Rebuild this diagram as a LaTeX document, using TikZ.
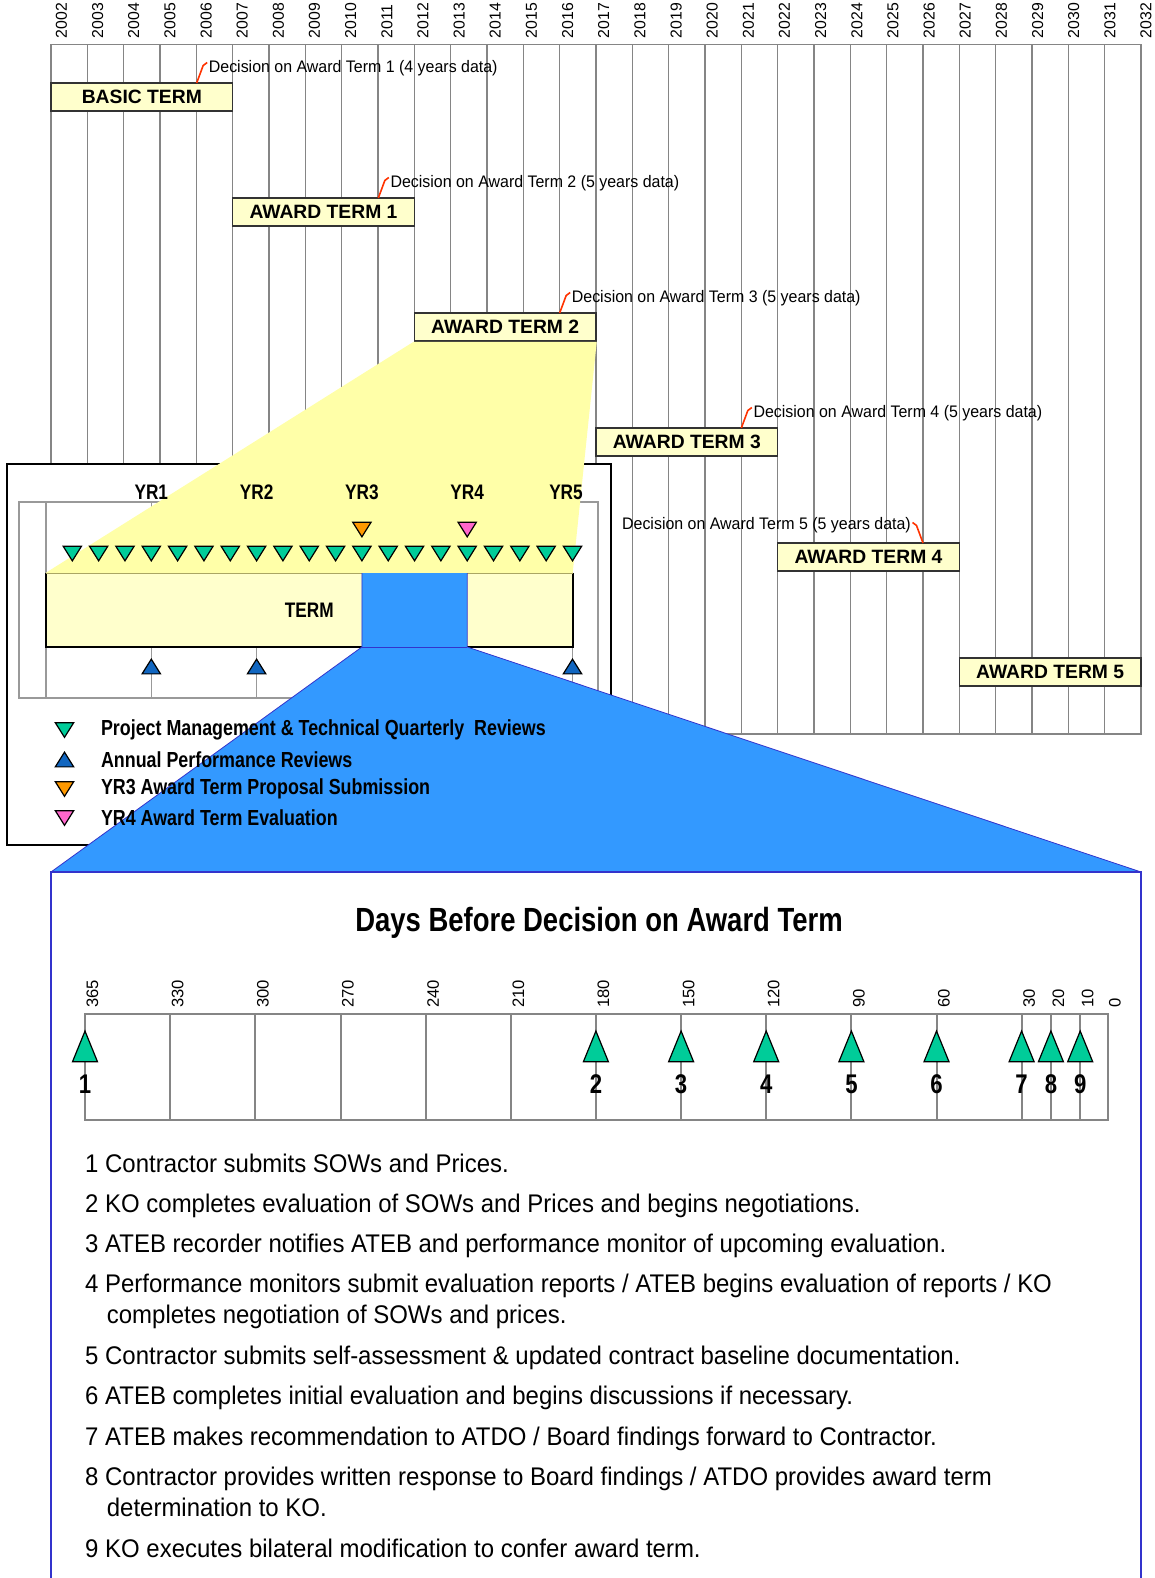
\documentclass[tikz,border=0pt]{standalone}
\usepackage{fontspec}
\setmainfont{Liberation Sans}
\newfontface\nb[FakeStretch=0.82]{Liberation Sans Bold}
\newfontface\lf[FakeStretch=0.94]{Liberation Sans}
\newfontface\df[FakeStretch=0.955]{Liberation Sans}
\usetikzlibrary{calc}
\definecolor{gridgray}{HTML}{858585}
\definecolor{termyellow}{HTML}{FFFFCC}
\definecolor{zoomyellow}{HTML}{FFFFA8}
\definecolor{zoomblue}{HTML}{3399FF}
\definecolor{edgeblue}{HTML}{3333CC}
\definecolor{qgreen}{HTML}{00CC99}
\definecolor{aorange}{HTML}{FF9900}
\definecolor{apink}{HTML}{FF66CC}
\definecolor{ablue}{HTML}{1166C0}
\definecolor{leaderred}{HTML}{FF3300}
\tikzset{
  gridline/.style={draw=gridgray, line width=1.6},
  yearlbl/.style={rotate=90, anchor=west, inner sep=0, font=\fontsize{15.8}{15.8}\selectfont},
  daylbl/.style={rotate=90, anchor=west, inner sep=0, font=\fontsize{16.6}{16.6}\selectfont},
  termbox/.style={draw=black!80, line width=1.5, fill=termyellow, inner sep=0,
     minimum width=181.67, minimum height=28, font=\bfseries\fontsize{19.3}{19.3}\selectfont},
  leader/.style={draw=leaderred, line width=1.6},
  dectext/.style={inner sep=0, font=\df\fontsize{16.7}{16.7}\selectfont},
  yrlbl/.style={inner sep=0, font=\nb\fontsize{21}{21}\selectfont},
  legtext/.style={inner sep=0, anchor=west, font=\nb\fontsize{21.8}{21.8}\selectfont},
  numlbl/.style={inner sep=0, font=\nb\fontsize{27}{27}\selectfont},
  listtext/.style={inner sep=0, anchor=base west, font=\lf\fontsize{25.5}{25.5}\selectfont},
  tri/.style={draw=black, line width=1.2, line join=miter},
  insetline/.style={draw=gray!80, line width=1.5},
  daybox/.style={draw=gridgray, line width=2},
  pics/dtri/.style={code={\draw[tri,fill=#1] (-9.2,-7.35) -- (9.2,-7.35) -- (0,7.35) -- cycle;}},
  pics/utri/.style={code={\draw[tri,fill=#1] (-9.2,7.35) -- (9.2,7.35) -- (0,-7.35) -- cycle;}},
  pics/bigtri/.style={code={\draw[tri,fill=qgreen] (-12.5,15.35) -- (12.5,15.35) -- (0,-15.35) -- cycle;}},
}
\begin{document}
\begin{tikzpicture}[x=1pt,y=-1pt]
\useasboundingbox (0,0) rectangle (1154,1578);
\fill[white] (0,0) rectangle (1154,1578);

% ---------- year grid ----------
\foreach \i in {1,...,29} \draw[gridline] ({51+\i*36.333},44.7) -- ({51+\i*36.333},734);
\draw[gridline] (51,44.7) rectangle (1141,734);
\foreach \i [evaluate=\i as \yr using int(2002+\i)] in {0,...,30}
  \node[yearlbl] (yr\i) at ({61.5+\i*36.15},38.5) {\yr};

% ---------- term boxes ----------
\node[termbox] (bt)  at (141.83,97)  {BASIC TERM};
\node[termbox] (at1) at (323.5,212)  {AWARD TERM 1};
\node[termbox] (at2) at (505.17,327) {AWARD TERM 2};
\node[termbox] (at3) at (686.83,442) {AWARD TERM 3};
\node[termbox] (at4) at (868.5,557)  {AWARD TERM 4};
\node[termbox] (at5) at (1050.17,672) {AWARD TERM 5};

% ---------- decisions ----------
\coordinate (l1) at (196.67,83);
\coordinate (l2) at (378.33,198);
\coordinate (l3) at (559.67,313);
\coordinate (l4) at (741.33,428);
\coordinate (l5) at (923,543);
\foreach \k in {1,2,3,4} \draw[leader] (l\k) -- ++(6.5,-17.5) -- ++(4,-3);
\draw[leader] (l5) -- ++(-6.5,-17.5) -- ++(-4,-3);
\node[dectext, anchor=west] (d1) at ($(l1)+(12,-14.5)$) {Decision on Award Term 1 (4 years data)};
\node[dectext, anchor=west] (d2) at ($(l2)+(12,-14.5)$) {Decision on Award Term 2 (5 years data)};
\node[dectext, anchor=west] (d3) at ($(l3)+(12,-14.5)$) {Decision on Award Term 3 (5 years data)};
\node[dectext, anchor=west] (d4) at ($(l4)+(12,-14.5)$) {Decision on Award Term 4 (5 years data)};
\node[dectext, anchor=east] (d5) at ($(l5)+(-12,-17.5)$) {Decision on Award Term 5 (5 years data)};

% ---------- inset panel ----------
\draw[black, line width=1.2, fill=white] (7,464) rectangle (611,845);
\draw[insetline] (19,502) rectangle (598,698);
\foreach \i in {0,...,5} \draw[insetline] ({46+\i*105.3},502) -- ({46+\i*105.3},698);

% TERM box node (fill only)
\node[fill=termyellow, minimum width=526.5, minimum height=74, inner sep=0] (term) at (309.25,610) {};

% yellow zoom polygon
\fill[zoomyellow] (at2.south west) -- (at2.south east) -- (term.north east) -- (term.north west) -- cycle;
\fill[termyellow] (term.north west) rectangle (term.south east);
\node[yrlbl] (termlbl) at (term.center) {TERM};
\draw[black, line width=1.8] (term.north west) -- (term.south west) -- (term.south east) -- (term.north east);
\draw[black!30!yellow!60!gray, line width=0.6] (term.north west) -- (term.north east);

\foreach \i/\t in {1/YR1,2/YR2,3/YR3,4/YR4} \node[yrlbl] (yrl\i) at ({46+\i*105.3},492) {\t};
\node[yrlbl] (yrl5) at (566,492) {YR5};

% blue zoom polygon
\coordinate (b1) at (361.9,573);
\coordinate (b2) at (467.2,573);
\coordinate (b3) at (467.2,647);
\coordinate (b4) at (361.9,647);
\coordinate (bbnw) at (51,872);
\coordinate (bbne) at (1141,872);
\fill[zoomblue] (b1) -- (b2) -- (b3) -- (bbne) -- (bbnw) -- (b4) -- cycle;
\draw[edgeblue, line width=0.8] (b1) -- (b4) -- (bbnw);
\draw[edgeblue, line width=0.8] (b2) -- (b3) -- (bbne);
\draw[edgeblue, line width=0.8] (b4) -- (b3);
\draw[edgeblue, line width=1.5] (51,1590) -- (bbnw) -- (bbne) -- (1141,1590);

% triangles in inset
\foreach \k in {1,...,20} \pic at ({46+26.325*\k},553.5) {dtri=qgreen};
\pic at ({46+26.325*12},529.5) {dtri=aorange};
\pic at ({46+26.325*16},529.5) {dtri=apink};
\foreach \xx in {151.3,256.6,572.5} \pic at (\xx,666.5) {utri=ablue};

% legend
\pic at (64.5,730) {dtri=qgreen};
\pic at (64.5,759.5) {utri=ablue};
\pic at (64.5,789) {dtri=aorange};
\pic at (64.5,818) {dtri=apink};
\node[legtext] (lg1) at (100.8,730) {Project Management \& Technical Quarterly\ \ Reviews};
\node[legtext] (lg2) at (100.8,759.5) {Annual Performance Reviews};
\node[legtext] (lg3) at (100.8,789) {YR3 Award Term Proposal Submission};
\node[legtext] (lg4) at (100.8,818) {YR4 Award Term Evaluation};

% ---------- bottom detail ----------
\node[inner sep=0, font=\nb\fontsize{33.5}{33.5}\selectfont] (title) at (599,923) {Days Before Decision on Award Term};
\foreach \xx in {170.2,255.4,340.5,425.6,510.8,595.9,681.1,766.2,851.4,936.5,1021.6,1050.9,1080.2}
  \draw[daybox] (\xx,1014) -- (\xx,1119.5);
\draw[daybox] (85,1014) rectangle (1107.5,1119.5);
\foreach \xx/\d in {85/365,170.2/330,255.4/300,340.5/270,425.6/240,510.8/210,595.9/180,681.1/150,766.2/120,851.4/90,936.5/60,1021.6/30,1050.9/20,1080.2/10,1107.5/0}
  \node[daylbl] (dl\d) at (\xx+7.5,1008) {\d};
\foreach \xx/\n in {85/1,595.9/2,681.1/3,766.2/4,851.4/5,936.5/6,1021.6/7,1050.9/8,1080.2/9} {
  \pic at (\xx,1046.4) {bigtri};
  \node[numlbl] (n\n) at (\xx,1084.5) {\n};
}

% list
\node[listtext] (t1) at (85,1172.7) {1 Contractor submits SOWs and Prices.};
\node[listtext] (t2) at (85,1212.7) {2 KO completes evaluation of SOWs and Prices and begins negotiations.};
\node[listtext] (t3) at (85,1252.7) {3 ATEB recorder notifies ATEB and performance monitor of upcoming evaluation.};
\node[listtext] (t4) at (85,1292.7) {4 Performance monitors submit evaluation reports / ATEB begins evaluation of reports / KO};
\node[listtext] (t4b) at (106.7,1323.3) {completes negotiation of SOWs and prices.};
\node[listtext] (t5) at (85,1364.5) {5 Contractor submits self-assessment \& updated contract baseline documentation.};
\node[listtext] (t6) at (85,1404.8) {6 ATEB completes initial evaluation and begins discussions if necessary.};
\node[listtext] (t7) at (85,1445) {7 ATEB makes recommendation to ATDO / Board findings forward to Contractor.};
\node[listtext] (t8) at (85,1485.2) {8 Contractor provides written response to Board findings / ATDO provides award term};
\node[listtext] (t8b) at (106.7,1516) {determination to KO.};
\node[listtext] (t9) at (85,1557) {9 KO executes bilateral modification to confer award term.};
\end{tikzpicture}
\end{document}
